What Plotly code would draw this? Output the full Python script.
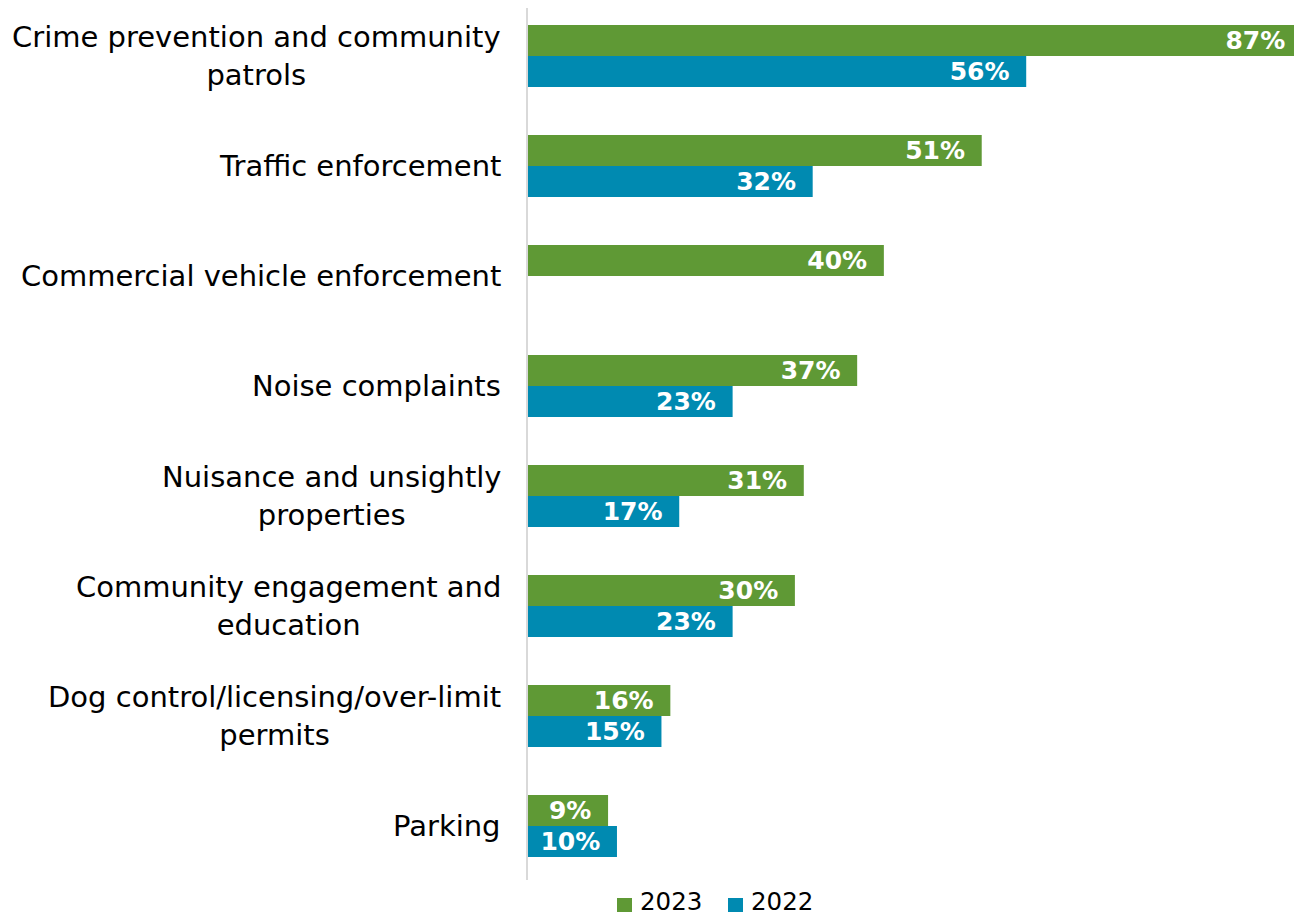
import plotly.graph_objects as go

categories = [
    "Crime prevention and community<br>patrols",
    "Traffic enforcement",
    "Commercial vehicle enforcement",
    "Noise complaints",
    "Nuisance and unsightly<br>properties",
    "Community engagement and<br>education",
    "Dog control/licensing/over-limit<br>permits",
    "Parking",
]
series_names = ["2023", "2022"]
values_2023 = [87, 51, 40, 37, 31, 30, 16, 9]
values_2022 = [56, 32, None, 23, 17, 23, 15, 10]

GREEN = "#5f9935"
BLUE = "#008ab1"
FONT = "DejaVu Sans"

W, H = 1294, 910
L, R, T, B = 520, 0, 0, 38
PW, PH = W - L - R, H - T - B

def px(fx):
    return (fx - L) / PW

def py(fy):
    return (PH + T - fy) / PH

fig = go.Figure()
for name, vals, col in [(series_names[0], values_2023, GREEN),
                        (series_names[1], values_2022, BLUE)]:
    fig.add_trace(go.Bar(
        name=name, y=categories, x=vals, orientation="h",
        marker=dict(color=col, line=dict(width=0)),
        text=[f"{v}%\u00a0\u2009" if v is not None else "" for v in vals],
        textposition="inside", insidetextanchor="end",
        textfont=dict(family=FONT, size=25, color="white", weight="bold"),
        constraintext="none", showlegend=False,
    ))

for c in categories:
    fig.add_annotation(x=0, xref="paper", y=c, yref="y", text=c,
                       xanchor="right", align="center", xshift=-25,
                       showarrow=False,
                       font=dict(family=FONT, size=29, color="#000000"))

# manual legend
legend_items = [(series_names[0], GREEN, 609, 631), (series_names[1], BLUE, 720, 742)]
for name, col, sx, tx in legend_items:
    fig.add_shape(type="rect", xref="paper", yref="paper",
                  x0=px(sx), x1=px(sx + 15), y0=py(904), y1=py(890),
                  fillcolor=col, line=dict(width=0))
    fig.add_annotation(x=px(tx), xref="paper", y=py(894), yref="paper",
                       text=name, xanchor="left", yanchor="middle",
                       showarrow=False, borderpad=0,
                       font=dict(family=FONT, size=24.5, color="#000000"))

fig.update_layout(
    width=W, height=H,
    margin=dict(l=L, r=R, t=T, b=B, pad=0),
    paper_bgcolor="white", plot_bgcolor="white",
    barmode="group", bargap=0.4364, bargroupgap=0,
    showlegend=False,
    font=dict(family=FONT),
    uniformtext=dict(mode="show", minsize=8),
)
fig.update_xaxes(range=[0, 87.0], visible=False, fixedrange=True)
fig.update_yaxes(range=[7.491, -0.436], showticklabels=False, ticks="",
                 showline=True, linecolor="#d9d9d9", linewidth=2,
                 showgrid=False, zeroline=False)

fig.write_html("out.html")
